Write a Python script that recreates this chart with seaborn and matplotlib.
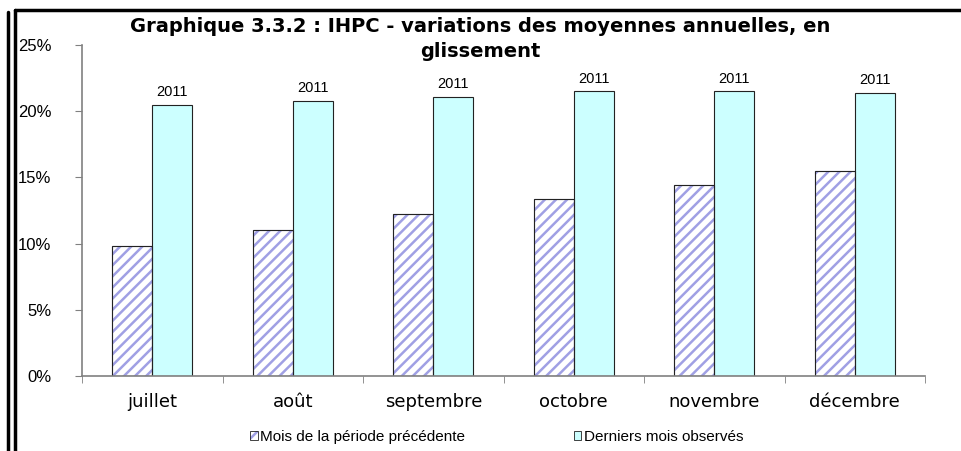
import numpy as np
import pandas as pd
import seaborn as sns
import matplotlib.pyplot as plt
from matplotlib.lines import Line2D
from matplotlib.patches import Patch, Rectangle
from matplotlib.legend_handler import HandlerTuple
from matplotlib.ticker import FuncFormatter, MultipleLocator

months = ["juillet", "août", "septembre", "octobre", "novembre", "décembre"]
prev_period = [9.8, 11.0, 12.2, 13.4, 14.4, 15.5]
last_months = [20.5, 20.8, 21.1, 21.5, 21.5, 21.4]
year_labels = ["2011"] * 6
series_names = ["Mois de la période précédente", "Derniers mois observés"]

# ---------------------------------------------------------
# Style
# ---------------------------------------------------------
sns.set_style("white")
plt.rcParams["font.family"] = ["Liberation Sans", "DejaVu Sans"]
plt.rcParams["hatch.linewidth"] = 1.8
for k in ["text.color", "xtick.color", "ytick.color", "axes.labelcolor"]:
    plt.rcParams[k] = "black"

stripe = "#A0A0E4"
cyan = "#CCFFFF"
grey = "#808080"
edge = "#222222"

df = pd.DataFrame({
    "mois": months * 2,
    "valeur": prev_period + last_months,
    "serie": [series_names[0]] * 6 + [series_names[1]] * 6,
})

fig = plt.figure(figsize=(9.61, 4.51), dpi=100)
ax = fig.add_axes([82 / 961, 75 / 451, 843 / 961, 331 / 451])

sns.barplot(data=df, x="mois", y="valeur", hue="serie", order=months,
            hue_order=series_names, palette=["white", cyan], saturation=1,
            width=0.57, gap=0, edgecolor=edge, linewidth=0.8, legend=False, ax=ax)

# hatch the first series (hatch takes the edge colour, so redraw the outline)
for p in ax.containers[0]:
    p.set_hatch("///")
    p.set_edgecolor(stripe)
    ax.add_patch(Rectangle((p.get_x(), p.get_y()), p.get_width(), p.get_height(),
                           fill=False, edgecolor=edge, linewidth=0.8, zorder=p.get_zorder() + 0.1))

ax.bar_label(ax.containers[1], labels=year_labels, padding=4, fontsize=10.5)

# ---------------------------------------------------------
# Axes
# ---------------------------------------------------------
ax.set_ylim(0, 25)
ax.set_xlim(-0.5, len(months) - 0.5)
ax.yaxis.set_major_locator(MultipleLocator(5))
ax.yaxis.set_major_formatter(FuncFormatter(lambda v, _: f"{v:.0f}%"))
ax.set_xticks(np.arange(len(months) + 1) - 0.5, minor=True)
ax.tick_params(axis="x", which="major", length=0, pad=12)
ax.tick_params(axis="x", which="minor", length=5, color=grey, direction="out", bottom=True)
ax.tick_params(axis="y", length=5, color=grey, direction="out", left=True, labelsize=12, pad=17)
for lab in ax.get_xticklabels():
    lab.set_fontfamily("DejaVu Sans")
    lab.set_fontsize(13)
ax.set_xlabel("")
ax.set_ylabel("")
sns.despine(ax=ax)
for s in ["left", "bottom"]:
    ax.spines[s].set_color(grey)
    ax.spines[s].set_linewidth(1.2)

fig.text(0.5, 434 / 451, "Graphique 3.3.2 : IHPC - variations des moyennes annuelles, en\nglissement",
         ha="center", va="top", fontsize=14, fontweight="bold", linespacing=1.4,
         family="DejaVu Sans")

h_prev = (Patch(facecolor="white", edgecolor=stripe, hatch="///", linewidth=0),
          Patch(fill=False, edgecolor=edge, linewidth=0.6))
h_last = Patch(facecolor=cyan, edgecolor=edge, linewidth=0.6)
fig.legend([h_prev, h_last], series_names, loc="center", bbox_to_anchor=(0.517, 14 / 451), ncol=2,
           frameon=False, fontsize=11, handlelength=0.5, handleheight=0.5,
           handletextpad=0.15, columnspacing=7.1,
           handler_map={tuple: HandlerTuple(ndivide=1)})

# frame lines
fig.add_artist(Line2D([15 / 961, 15 / 961], [0, 441 / 451], color="black", lw=2.5))
fig.add_artist(Line2D([15 / 961, 1], [441 / 451, 441 / 451], color="black", lw=2.5))
fig.add_artist(Line2D([8 / 961, 8 / 961], [0, 439 / 451], color="black", lw=2.5))

fig.savefig("out.png", dpi=100)
